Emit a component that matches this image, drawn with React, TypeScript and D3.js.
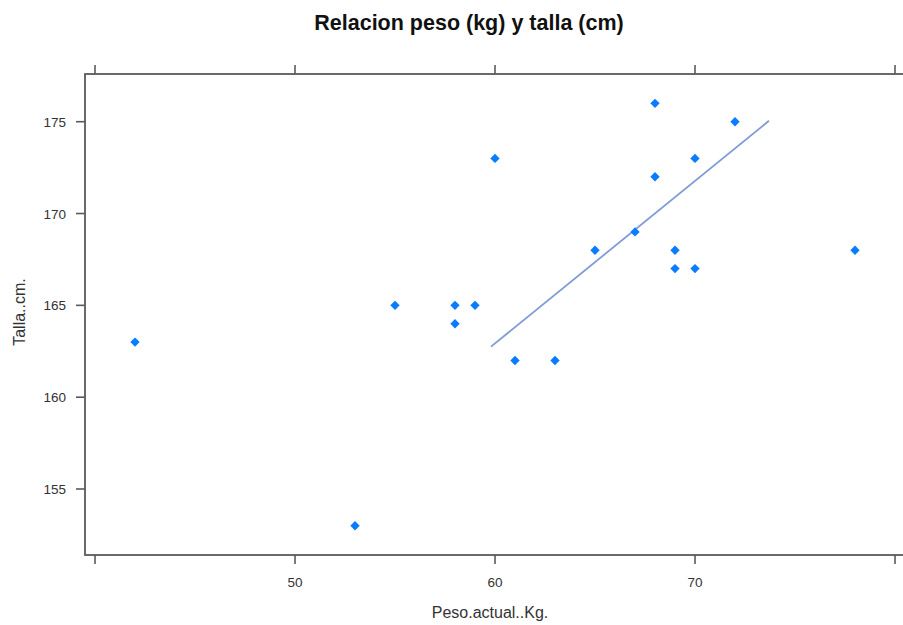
import React from "react";
import * as d3 from "d3";

const pesoKg = [42, 53, 55, 58, 58, 59, 60, 61, 63, 65, 67, 68, 68, 69, 69, 70, 70, 72, 78];
const tallaCm = [163, 153, 165, 165, 164, 165, 173, 162, 162, 168, 169, 176, 172, 168, 167, 173, 167, 175, 168];
const lineX = [59.8, 73.7];
const lineY = [162.75, 175.05];
const xTicks = [40, 50, 60, 70, 80];
const xTickLabels = ["", "50", "60", "70", ""];
const yTicks = [155, 160, 165, 170, 175];
const yTickLabels = ["155", "160", "165", "170", "175"];

const W = 903;
const H = 625;
const box = { left: 85, top: 74, right: 912, bottom: 555 };

export default function App() {
  const x = d3.scaleLinear().domain([40, 80]).range([95, 895]);
  const y = d3.scaleLinear().domain([155, 175]).range([489, 121.7]);
  const line = d3
    .line<number>()
    .x((_, i) => x(lineX[i]))
    .y((_, i) => y(lineY[i]));
  const diamond = d3.symbol().type(d3.symbolDiamond2).size(56)();
  const frame = "#5a5a5a";
  const font = "'Liberation Sans', Arial, sans-serif";
  return (
    <svg
      width={W}
      height={H}
      style={{ position: "absolute", left: 0, top: 0, display: "block", background: "#fff" }}
      fontFamily={font}
    >
      <text x={469} y={30} textAnchor="middle" fontSize={21.5} fontWeight="bold" fill="#111">
        Relacion peso (kg) y talla (cm)
      </text>
      <rect
        x={box.left}
        y={box.top}
        width={box.right - box.left}
        height={box.bottom - box.top}
        fill="none"
        stroke={frame}
        strokeWidth={1.8}
      />
      {xTicks.map((t, i) => (
        <g key={"xt" + t}>
          <line x1={x(t)} x2={x(t)} y1={box.bottom} y2={box.bottom + 9} stroke={frame} strokeWidth={1.6} />
          <line x1={x(t)} x2={x(t)} y1={box.top} y2={box.top - 9} stroke={frame} strokeWidth={1.6} />
          <text x={x(t)} y={587} textAnchor="middle" fontSize={13.5} fill="#333">
            {xTickLabels[i]}
          </text>
        </g>
      ))}
      {yTicks.map((t, i) => (
        <g key={"yt" + t}>
          <line x1={box.left} x2={box.left - 9} y1={y(t)} y2={y(t)} stroke={frame} strokeWidth={1.6} />
          <text x={66} y={y(t) + 5} textAnchor="end" fontSize={13.5} fill="#333">
            {yTickLabels[i]}
          </text>
        </g>
      ))}
      <path d={line([0, 1]) || ""} fill="none" stroke="#7f9cd6" strokeWidth={1.8} />
      {pesoKg.map((v, i) => (
        <path
          key={"p" + i}
          d={diamond || ""}
          transform={`translate(${x(v)},${y(tallaCm[i])})`}
          fill="#0a7cff"
        />
      ))}
      <text x={490} y={618} textAnchor="middle" fontSize={16} fill="#333">
        Peso.actual..Kg.
      </text>
      <text
        transform={`translate(25,${312}) rotate(-90)`}
        textAnchor="middle"
        fontSize={16}
        fill="#333"
      >
        Talla..cm.
      </text>
    </svg>
  );
}
